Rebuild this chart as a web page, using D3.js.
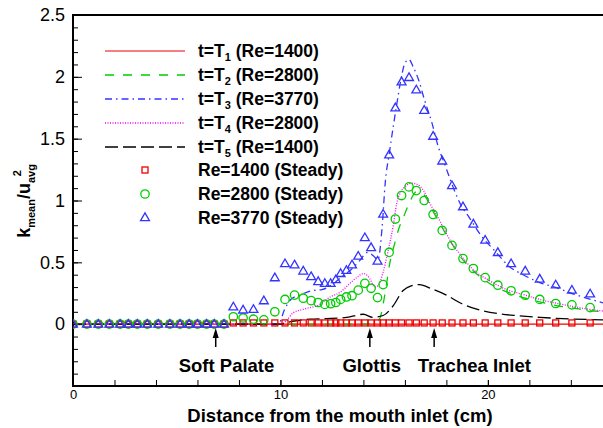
<!DOCTYPE html>
<html lang="en">
  <head>
    <meta charset="utf-8">
    <title>k mean along the airway</title>
    <script type="text/javascript" src="https://cdn.jsdelivr.net/npm/d3@7/dist/d3.min.js"></script>
    <style type="text/css">
      body { margin: 0; background: #fff; }
      svg { font-family: "Liberation Sans", Arial, sans-serif; }
      .axis path, .axis line { stroke: #000; }
    </style>
  </head>
  <body>
    <script type="text/javascript">

      //Unsteady curves (x in cm, y = k_mean / u_avg^2)
      var t1X = [0, 25.6];
      var t1Y = [0, 0];

      var t2X = [0, 14.0, 14.5, 14.8, 14.95, 15.1, 15.28, 15.52, 15.7, 15.92, 16.24, 16.55, 16.9, 17.3, 17.8, 18.3, 18.8, 19.3, 19.9, 20.5, 21.1, 21.8, 22.5, 23.3, 24.1, 24.9, 25.6];
      var t2Y = [0, 0, 0.01, 0.05, 0.16, 0.31, 0.5, 0.66, 0.77, 0.86, 0.99, 1.07, 1.05, 0.93, 0.78, 0.64, 0.52, 0.43, 0.35, 0.29, 0.25, 0.21, 0.18, 0.15, 0.13, 0.11, 0.10];

      var t3X = [0, 9.9, 10.2, 10.5, 11.0, 11.5, 12.0, 12.5, 13.0, 13.4, 13.8, 14.2, 14.5, 14.7, 14.9, 15.05, 15.25, 15.45, 15.6, 15.8, 16.0, 16.2, 16.4, 16.65, 16.95, 17.3, 17.6, 17.95, 18.25, 18.65, 19.15, 19.7, 20.35, 21.0, 21.7, 22.5, 23.3, 24.3, 25.6];
      var t3Y = [0, 0, 0.12, 0.2, 0.24, 0.27, 0.28, 0.32, 0.39, 0.44, 0.51, 0.58, 0.55, 0.52, 0.78, 1.14, 1.385, 1.61, 1.77, 1.97, 2.11, 2.14, 2.08, 1.98, 1.81, 1.63, 1.44, 1.28, 1.14, 0.98, 0.85, 0.71, 0.59, 0.47, 0.40, 0.336, 0.295, 0.234, 0.17];

      var t4X = [0, 10.0, 10.3, 10.6, 11.1, 11.9, 12.4, 12.9, 13.35, 13.7, 14.0, 14.3, 14.55, 14.7, 14.95, 15.2, 15.44, 15.6, 15.8, 16.0, 16.3, 16.6, 16.9, 17.2, 17.7, 18.17, 18.73, 19.3, 20.1, 20.9, 21.7, 22.5, 23.6, 24.9, 25.6];
      var t4Y = [0, 0, 0.03, 0.09, 0.12, 0.16, 0.22, 0.26, 0.33, 0.38, 0.41, 0.37, 0.30, 0.31, 0.42, 0.6, 0.8, 0.97, 1.07, 1.11, 1.14, 1.13, 1.08, 0.98, 0.83, 0.68, 0.55, 0.44, 0.35, 0.28, 0.24, 0.2, 0.16, 0.12, 0.105];

      var t5X = [0, 10.0, 10.5, 11.4, 12.2, 13.2, 14.0, 14.45, 14.95, 15.44, 15.9, 16.3, 16.7, 17.3, 18.0, 18.75, 19.5, 20.5, 21.5, 22.5, 23.6, 25.6];
      var t5Y = [0, 0, 0.02, 0.04, 0.045, 0.055, 0.08, 0.055, 0.07, 0.15, 0.27, 0.31, 0.32, 0.285, 0.235, 0.165, 0.12, 0.085, 0.068, 0.055, 0.045, 0.035];

      //Steady results, shared stations
      var steadyX = [0, 0.67, 1.22, 1.75, 2.27, 2.67, 3.1, 3.58, 4.11, 4.67, 5.16, 5.6, 6.0, 6.44, 6.81, 7.28,
                     7.73, 8.2, 8.7, 9.2, 9.73, 10.22, 10.68, 11.1, 11.48, 11.82, 12.14, 12.42, 12.67, 12.9,
                     13.18, 13.45, 13.75, 14.07, 14.37, 14.68, 14.95, 15.24, 15.54, 15.84, 16.2, 16.55, 16.93,
                     17.36, 17.8, 18.27, 18.8, 19.3, 19.87, 20.48, 21.12, 21.8, 22.5, 23.27, 24.05, 24.93];
      var steady1400 = [0, 0, 0, 0, 0, 0, 0, 0, 0, 0, 0, 0, 0, 0, 0, 0,
                        0.01, 0.01, 0.01, 0.01, 0.01, 0.01, 0.01, 0.01, 0.01, 0.01, 0.01, 0.01, 0.01, 0.01,
                        0.01, 0.01, 0.01, 0.01, 0.01, 0.01, 0.01, 0.01, 0.01, 0.01, 0.01, 0.01, 0.01,
                        0.01, 0.01, 0.01, 0.01, 0.01, 0.01, 0.01, 0.01, 0.01, 0.01, 0.01, 0.01, 0.01];
      var steady2800 = [0, 0, 0, 0, 0, 0, 0, 0, 0, 0, 0, 0, 0, 0, 0, 0,
                        0.06, 0.05, 0.04, 0.035, 0.10, 0.20, 0.235, 0.21, 0.19, 0.175, 0.16, 0.165, 0.175, 0.2,
                        0.22, 0.23, 0.275, 0.33, 0.29, 0.215, 0.32, 0.58, 0.85, 1.04, 1.11, 1.08, 1.0,
                        0.887, 0.758, 0.637, 0.53, 0.45, 0.376, 0.315, 0.27, 0.234, 0.2, 0.167, 0.156, 0.134];
      var steady3770 = [0, 0, 0, 0, 0, 0, 0, 0, 0, 0, 0, 0, 0, 0, 0, 0,
                        0.14, 0.115, 0.12, 0.19, 0.376, 0.49, 0.48, 0.43, 0.385, 0.345, 0.33, 0.33, 0.36, 0.41,
                        0.435, 0.48, 0.55, 0.70, 0.62, 0.51, 0.89, 1.37, 1.75, 1.96, 1.995, 1.895, 1.73,
                        1.52, 1.32, 1.12, 0.95, 0.81, 0.68, 0.58, 0.49, 0.43, 0.365, 0.318, 0.275, 0.245];

      //Legend texts
      var lineSubs = ["1", "2", "3", "4", "5"];
      var lineRe = [" (Re=1400)", " (Re=2800)", " (Re=3770)", " (Re=2800)", " (Re=1400)"];
      var steadyLabels = ["Re=1400 (Steady)", "Re=2800 (Steady)", "Re=3770 (Steady)"];

      //Annotations: label, arrow position (cm), label centre (cm)
      var noteLabels = ["Soft Palate", "Glottis", "Trachea Inlet"];
      var noteArrowX = [6.88, 14.31, 17.41];
      var noteTextX = [7.4, 14.4, 19.35];

      //Ticks
      var yMajor = [-0.5, 0, 0.5, 1, 1.5, 2, 2.5];
      var yLabels = ["", "0", "0.5", "1", "1.5", "2", "2.5"];
      var xMajor = [0, 10, 20];

      var w = 603, h = 428;
      var plotLeft = 73, plotRight = 603, plotTop = 15, plotBottom = 386;

      var xScale = d3.scaleLinear().domain([0, 25.55]).range([plotLeft, plotRight]);
      var yScale = d3.scaleLinear().domain([-0.5, 2.5]).range([plotBottom, plotTop]);

      var svg = d3.select("body").append("svg")
                  .attr("width", w)
                  .attr("height", h);

      svg.append("clipPath").attr("id", "plot")
         .append("rect")
         .attr("x", plotLeft).attr("y", plotTop)
         .attr("width", plotRight - plotLeft).attr("height", plotBottom - plotTop);

      //Minor ticks
      var yMinor = d3.range(-0.5, 2.51, 0.1).map(function(v) { return Math.round(v * 10) / 10; });
      var xMinor = d3.range(0, 26, 2);

      svg.append("g").attr("class", "axis")
         .attr("transform", "translate(" + plotLeft + ",0)")
         .call(d3.axisLeft(yScale).tickValues(yMinor).tickFormat("").tickSizeInner(-5).tickSizeOuter(0))
         .select(".domain").remove();

      svg.append("g").attr("class", "axis")
         .attr("transform", "translate(0," + plotBottom + ")")
         .call(d3.axisBottom(xScale).tickValues(xMinor).tickFormat("").tickSizeInner(-6).tickSizeOuter(0))
         .select(".domain").remove();

      //Major ticks
      var yAxis = svg.append("g").attr("class", "axis")
         .attr("transform", "translate(" + plotLeft + ",0)")
         .call(d3.axisLeft(yScale).tickValues(yMajor)
               .tickFormat(function(d, i) { return yLabels[i]; })
               .tickSizeInner(-9).tickSizeOuter(0).tickPadding(8));
      yAxis.select(".domain").remove();
      yAxis.selectAll("text").attr("font-size", 18).attr("fill", "#000");

      var xAxis = svg.append("g").attr("class", "axis")
         .attr("transform", "translate(0," + plotBottom + ")")
         .call(d3.axisBottom(xScale).tickValues(xMajor).tickFormat(d3.format("d"))
               .tickSizeInner(-6).tickSizeOuter(0).tickPadding(4));
      xAxis.select(".domain").remove();
      xAxis.selectAll("text").attr("font-size", 13).attr("fill", "#000");

      //Frame
      svg.append("path")
         .attr("d", "M" + (plotRight + 2) + "," + plotTop + "H" + plotLeft + "V" + plotBottom + "H" + (plotRight + 2))
         .attr("fill", "none")
         .attr("stroke", "#000")
         .attr("stroke-width", 2);

      //Lines
      var line = d3.line()
                   .x(function(d) { return xScale(d[0]); })
                   .y(function(d) { return yScale(d[1]); })
                   .curve(d3.curveMonotoneX);

      var series = [
        { xs: t1X, ys: t1Y, color: "#ee0000", dash: null, width: 1.2 },
        { xs: t2X, ys: t2Y, color: "#00cc00", dash: "9,9", width: 1.3 },
        { xs: t3X, ys: t3Y, color: "#3333ff", dash: "7,4,1.5,4", width: 1.3 },
        { xs: t4X, ys: t4Y, color: "#ff00ff", dash: "1,1.5", width: 1.3 },
        { xs: t5X, ys: t5Y, color: "#000000", dash: "13,5", width: 1.3 }
      ];

      var plot = svg.append("g").attr("clip-path", "url(#plot)");

      series.forEach(function(s) {
        plot.append("path")
            .datum(s.xs.map(function(v, i) { return [v, s.ys[i]]; }))
            .attr("fill", "none")
            .attr("stroke", s.color)
            .attr("stroke-width", s.width)
            .attr("stroke-dasharray", s.dash)
            .attr("d", line);
      });

      //Steady symbols
      var sq = 6, cr = 4.2;
      var tri = d3.symbol().type(d3.symbolTriangle).size(34);

      plot.selectAll(".sq").data(steadyX).enter().append("rect")
          .attr("x", function(d) { return xScale(d) - sq / 2; })
          .attr("y", function(d, i) { return yScale(steady1400[i]) - sq / 2; })
          .attr("width", sq).attr("height", sq)
          .attr("fill", "none").attr("stroke", "#ee0000").attr("stroke-width", 1.3);

      plot.selectAll(".ci").data(steadyX).enter().append("circle")
          .attr("cx", function(d) { return xScale(d); })
          .attr("cy", function(d, i) { return yScale(steady2800[i]); })
          .attr("r", cr)
          .attr("fill", "none").attr("stroke", "#00cc00").attr("stroke-width", 1.3);

      plot.selectAll(".tr").data(steadyX).enter().append("path")
          .attr("transform", function(d, i) { return "translate(" + xScale(d) + "," + (yScale(steady3770[i]) + 0.5) + ")"; })
          .attr("d", tri)
          .attr("fill", "none").attr("stroke", "#3333ff").attr("stroke-width", 1.3);

      //Annotations
      noteLabels.forEach(function(label, i) {
        var ax = xScale(noteArrowX[i]);
        svg.append("line")
           .attr("x1", ax).attr("x2", ax)
           .attr("y1", 347).attr("y2", 336)
           .attr("stroke", "#000").attr("stroke-width", 1.5);
        svg.append("path")
           .attr("d", "M" + (ax - 3) + ",338L" + ax + ",328L" + (ax + 3) + ",338Z")
           .attr("fill", "#000");
        svg.append("text")
           .attr("x", xScale(noteTextX[i]))
           .attr("y", 372)
           .attr("text-anchor", "middle")
           .attr("font-size", 18.5)
           .attr("font-weight", "bold")
           .text(label);
      });

      //Legend
      var lx0 = 105, lx1 = 185, tx = 198, ly0 = 51, dy = 24;
      var legendFont = 17.5;

      series.forEach(function(s, i) {
        var yy = ly0 + i * dy;
        svg.append("line")
           .attr("x1", lx0).attr("x2", lx1)
           .attr("y1", yy).attr("y2", yy)
           .attr("stroke", s.color)
           .attr("stroke-width", s.width)
           .attr("stroke-dasharray", s.dash);
        var t = svg.append("text")
           .attr("x", tx).attr("y", yy + 6)
           .attr("font-size", legendFont).attr("font-weight", "bold");
        t.append("tspan").text("t=T");
        t.append("tspan").attr("font-size", 11).attr("dy", 4).text(lineSubs[i]);
        t.append("tspan").attr("dy", -4).text(lineRe[i]);
      });

      steadyLabels.forEach(function(label, i) {
        var yy = ly0 + (5 + i) * dy - 1;
        var mx = 145;
        if (i === 0) {
          svg.append("rect").attr("x", mx - sq / 2).attr("y", yy - sq / 2)
             .attr("width", sq).attr("height", sq)
             .attr("fill", "none").attr("stroke", "#ee0000").attr("stroke-width", 1.3);
        } else if (i === 1) {
          svg.append("circle").attr("cx", mx).attr("cy", yy).attr("r", cr)
             .attr("fill", "none").attr("stroke", "#00cc00").attr("stroke-width", 1.3);
        } else {
          svg.append("path").attr("transform", "translate(" + mx + "," + yy + ")")
             .attr("d", tri)
             .attr("fill", "none").attr("stroke", "#3333ff").attr("stroke-width", 1.3);
        }
        svg.append("text")
           .attr("x", tx).attr("y", yy + 6)
           .attr("font-size", legendFont).attr("font-weight", "bold")
           .text(label);
      });

      //Axis titles
      svg.append("text")
         .attr("x", 340)
         .attr("y", 422)
         .attr("text-anchor", "middle")
         .attr("font-size", 18.5)
         .attr("font-weight", "bold")
         .text("Distance from the mouth inlet (cm)");

      var yt = svg.append("text")
         .attr("transform", "translate(30,201) rotate(-90)")
         .attr("text-anchor", "middle")
         .attr("font-size", 18)
         .attr("font-weight", "bold");
      yt.append("tspan").text("k");
      yt.append("tspan").attr("font-size", 11).attr("dy", 5).text("mean");
      yt.append("tspan").attr("dy", -5).text("/u");
      yt.append("tspan").attr("font-size", 11).attr("dy", 5).text("avg");
      yt.append("tspan").attr("font-size", 11).attr("dx", -12).attr("dy", -14).text("2");

    </script>
  </body>
</html>
